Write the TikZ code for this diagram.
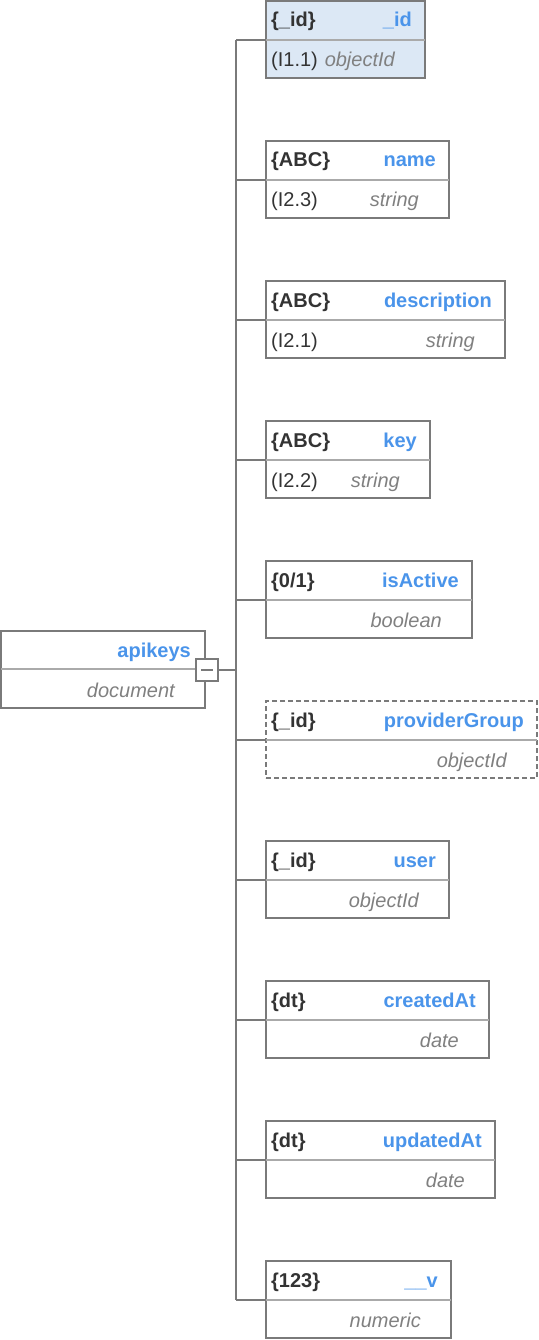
\documentclass[tikz,border=0pt]{standalone}
\usepackage{fontspec}
\setmainfont{Liberation Sans}
\definecolor{bordergray}{HTML}{7A7A7A}
\definecolor{divgray}{HTML}{AAAAAA}
\definecolor{fieldblue}{HTML}{4A94EA}
\definecolor{typegray}{HTML}{808080}
\definecolor{tagdark}{HTML}{333333}
\definecolor{idfill}{HTML}{DCE8F5}
\tikzset{
  box/.style={draw=bordergray, line width=1.6pt, rectangle, minimum height=77pt, anchor=north west, inner sep=0pt, outer sep=0pt},
  pkbox/.style={box, fill=idfill},
  optbox/.style={box, dash pattern=on 5pt off 3pt},
  divider/.style={draw=divgray, line width=1.3pt},
  conn/.style={draw=bordergray, line width=1.6pt},
  tag/.style={anchor=base west, inner sep=0pt, text=tagdark, font=\fontsize{20}{23}\selectfont\bfseries},
  fname/.style={anchor=base east, inner sep=0pt, text=fieldblue, font=\fontsize{20}{23}\selectfont\bfseries},
  idx/.style={anchor=base west, inner sep=0pt, text=tagdark, font=\fontsize{20}{23}\selectfont},
  ftype/.style={anchor=base east, inner sep=0pt, text=typegray, font=\fontsize{20}{23}\selectfont\itshape},
  btnbox/.style={draw=bordergray, fill=white, line width=1.6pt, minimum width=22pt, minimum height=22pt, inner sep=0pt},
}
% #1 node name, #2 top y, #3 width, #4 style, #5 tag, #6 field, #7 index, #8 type
\newcommand\fieldbox[8]{%
  \node[#4, minimum width=#3pt] (#1) at (266,#2) {};
  \coordinate (#1d) at ([yshift=-39pt]#1.north west);
  \draw[divider] (#1d) -- ([yshift=-39pt]#1.north east);
  \node[tag] (#1tag) at ([xshift=5pt,yshift=-26pt]#1.north west) {#5};
  \node[fname] (#1name) at ([xshift=-13pt,yshift=-26pt]#1.north east) {#6};
  \node[idx] (#1idx) at ([xshift=5pt,yshift=-66pt]#1.north west) {#7};
  \node[ftype] (#1type) at ([xshift=-30pt,yshift=-66pt]#1.north east) {#8};
  \coordinate (#1t) at (236,#2+39);
  \draw[conn] (#1t) -- (#1d);
}
\begin{document}
\begin{tikzpicture}[x=1pt,y=-1pt]
\useasboundingbox (0,0) rectangle (538,1340);
% root
\node[box, minimum width=204pt] (root) at (1,631) {};
\draw[divider] ([yshift=-38pt]root.north west) -- ([yshift=-38pt]root.north east);
\node[fname] (rootname) at ([xshift=-14pt,yshift=-26pt]root.north east) {apikeys};
\node[ftype] (roottype) at ([xshift=-30pt,yshift=-66pt]root.north east) {document};
\node[btnbox] (btn) at (207,670) {};
\draw[draw=bordergray, line width=1.4pt] ([xshift=-6pt]btn.center) -- ([xshift=6pt]btn.center);
\coordinate (trunkmid) at (236,670);
\draw[conn] (btn.east) -- (trunkmid);
% fields
\fieldbox{f1}{1}{159}{pkbox}{\{\_id\}}{\_id}{(I1.1)}{objectId}
\fieldbox{f2}{141}{183}{box}{\{ABC\}}{name}{(I2.3)}{string}
\fieldbox{f3}{281}{239}{box}{\{ABC\}}{description}{(I2.1)}{string}
\fieldbox{f4}{421}{164}{box}{\{ABC\}}{key}{(I2.2)}{string}
\fieldbox{f5}{561}{206}{box}{\{0/1\}}{isActive}{}{boolean}
\fieldbox{f6}{701}{271}{optbox}{\{\_id\}}{providerGroup}{}{objectId}
\fieldbox{f7}{841}{183}{box}{\{\_id\}}{user}{}{objectId}
\fieldbox{f8}{981}{223}{box}{\{dt\}}{createdAt}{}{date}
\fieldbox{f9}{1121}{229}{box}{\{dt\}}{updatedAt}{}{date}
\fieldbox{f10}{1261}{185}{box}{\{123\}}{\_\_v}{}{numeric}
\draw[conn] (f1t) -- (f10t);
\end{tikzpicture}
\end{document}
